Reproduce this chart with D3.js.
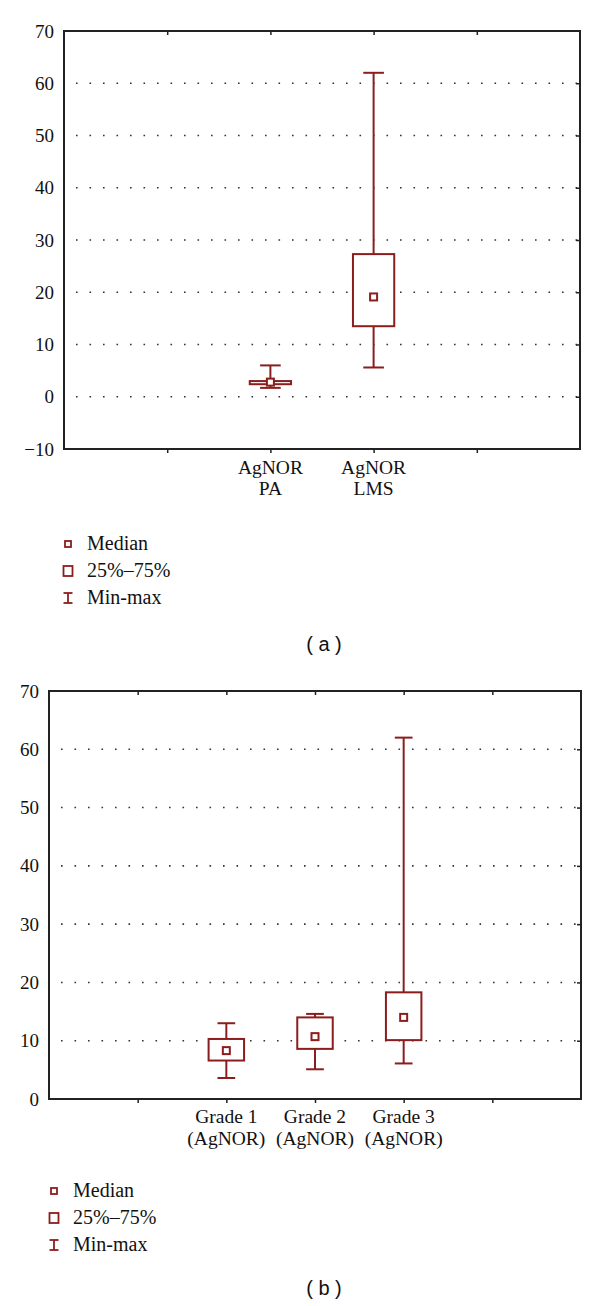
<!DOCTYPE html>
<html>
<head>
<meta charset="utf-8">
<script src="https://cdn.jsdelivr.net/npm/d3@7"></script>
<style>
  body { margin: 0; background: #fff; }
  svg { display: block; }
</style>
</head>
<body>
<script>
// panel (a)
var catsA = [["AgNOR", "PA"], ["AgNOR", "LMS"]]
var minA = [1.7, 5.6]
var q1A = [2.4, 13.5]
var medA = [2.8, 19.1]
var q3A = [3.0, 27.3]
var maxA = [6.0, 62.0]
var ticksA = [-10, 0, 10, 20, 30, 40, 50, 60, 70]

// panel (b)
var catsB = [["Grade 1", "(AgNOR)"], ["Grade 2", "(AgNOR)"], ["Grade 3", "(AgNOR)"]]
var minB = [3.6, 5.1, 6.1]
var q1B = [6.6, 8.6, 10.1]
var medB = [8.3, 10.7, 14.0]
var q3B = [10.3, 14.0, 18.3]
var maxB = [13.0, 14.6, 62.0]
var ticksB = [0, 10, 20, 30, 40, 50, 60, 70]

var legendItems = ["Median", "25%\u201375%", "Min-max"]

var RED = "#8c1d1d"
var AXIS = "#222"
var SERIF = "Liberation Serif, Times New Roman, serif"

var svg = d3.select("body").append("svg")
  .attr("width", 600)
  .attr("height", 1306)

function boxPanel(opt) {
  var g = svg.append("g")
  var n = opt.cats.length
  // two empty slots on each side of the categories
  var x = d3.scaleLinear().domain([0, n + 3]).range([opt.left, opt.right])
  var y = d3.scaleLinear().domain(d3.extent(opt.ticks)).range([opt.bottom, opt.top])
  var step = x(1) - x(0)
  var inner = d3.range(1, n + 3)

  // dotted grid
  var grid = opt.ticks.slice(1, -1)
  g.append("g").selectAll("line").data(grid).enter().append("line")
    .attr("x1", opt.left + 12).attr("x2", opt.right)
    .attr("y1", function(d) { return y(d) }).attr("y2", function(d) { return y(d) })
    .attr("stroke", "#333").attr("stroke-width", 1.6)
    .attr("stroke-dasharray", "1.6,11.9")

  // y labels
  var ay = g.append("g").attr("transform", "translate(" + opt.left + ",0)")
    .call(d3.axisLeft(y).tickValues(opt.ticks).tickSize(0).tickPadding(10))
  ay.select(".domain").remove()
  ay.selectAll("text")
    .attr("font-family", SERIF).attr("font-size", 19).attr("fill", "#111")

  // inward ticks on the right
  var ar = g.append("g").attr("transform", "translate(" + opt.right + ",0)")
    .call(d3.axisLeft(y).tickValues(grid).tickSize(4).tickFormat(""))
  ar.select(".domain").remove()
  ar.selectAll("line").attr("stroke", AXIS).attr("stroke-width", 1.5)

  // x ticks top (inward) and bottom (outward)
  var at = g.append("g").attr("transform", "translate(0," + opt.top + ")")
    .call(d3.axisBottom(x).tickValues(inner).tickSize(4).tickFormat(""))
  at.select(".domain").remove()
  at.selectAll("line").attr("stroke", AXIS).attr("stroke-width", 1.5)
  var ab = g.append("g").attr("transform", "translate(0," + opt.bottom + ")")
    .call(d3.axisBottom(x).tickValues(inner).tickSize(4).tickFormat(""))
  ab.select(".domain").remove()
  ab.selectAll("line").attr("stroke", AXIS).attr("stroke-width", 1.5)

  // frame
  g.append("rect")
    .attr("x", opt.left).attr("y", opt.top)
    .attr("width", opt.right - opt.left).attr("height", opt.bottom - opt.top)
    .attr("fill", "none").attr("stroke", AXIS).attr("stroke-width", 2)

  var data = opt.cats.map(function(c, i) {
    return {cat: c, pos: i + 2, min: opt.min[i], q1: opt.q1[i], med: opt.med[i], q3: opt.q3[i], max: opt.max[i]}
  })
  var boxW = step * 0.4
  var capW = step * 0.2

  var b = g.append("g").selectAll("g").data(data).enter().append("g")
    .attr("fill", "none").attr("stroke", RED).attr("stroke-width", 2)
  b.append("line")
    .attr("x1", function(d) { return x(d.pos) }).attr("x2", function(d) { return x(d.pos) })
    .attr("y1", function(d) { return y(d.max) }).attr("y2", function(d) { return y(d.q3) })
  b.append("line")
    .attr("x1", function(d) { return x(d.pos) }).attr("x2", function(d) { return x(d.pos) })
    .attr("y1", function(d) { return y(d.q1) }).attr("y2", function(d) { return y(d.min) })
  b.append("line")
    .attr("x1", function(d) { return x(d.pos) - capW / 2 }).attr("x2", function(d) { return x(d.pos) + capW / 2 })
    .attr("y1", function(d) { return y(d.max) }).attr("y2", function(d) { return y(d.max) })
  b.append("line")
    .attr("x1", function(d) { return x(d.pos) - capW / 2 }).attr("x2", function(d) { return x(d.pos) + capW / 2 })
    .attr("y1", function(d) { return y(d.min) }).attr("y2", function(d) { return y(d.min) })
  b.append("rect")
    .attr("x", function(d) { return x(d.pos) - boxW / 2 }).attr("width", boxW)
    .attr("y", function(d) { return y(d.q3) })
    .attr("height", function(d) { return y(d.q1) - y(d.q3) })
    .attr("fill", "#fff")
  b.append("rect")
    .attr("x", function(d) { return x(d.pos) - 3.5 }).attr("width", 7)
    .attr("y", function(d) { return y(d.med) - 3.5 }).attr("height", 7)
    .attr("fill", "#fff")

  // category labels
  var lab = g.append("g").selectAll("text").data(data).enter().append("text")
    .attr("text-anchor", "middle")
    .attr("font-family", SERIF).attr("font-size", 19.5)
    .attr("fill", "#111")
  lab.each(function(d) {
    var t = d3.select(this)
    d.cat.forEach(function(s, k) {
      t.append("tspan").attr("x", x(d.pos)).attr("y", opt.labY + k * opt.labGap).text(s)
    })
  })

  // legend
  var lg = g.append("g")
  legendItems.forEach(function(s, k) {
    var ly = opt.legY + k * 27
    var cx = opt.legX
    var mk = lg.append("g").attr("fill", "none").attr("stroke", RED).attr("stroke-width", 1.8)
    if (k === 0) {
      mk.append("rect").attr("x", cx - 3).attr("y", ly - 9).attr("width", 6).attr("height", 6)
    } else if (k === 1) {
      mk.append("rect").attr("x", cx - 4.5).attr("y", ly - 11).attr("width", 9).attr("height", 10)
    } else {
      mk.append("line").attr("x1", cx).attr("x2", cx).attr("y1", ly - 11).attr("y2", ly - 1)
      mk.append("line").attr("x1", cx - 4.5).attr("x2", cx + 4.5).attr("y1", ly - 11).attr("y2", ly - 11)
      mk.append("line").attr("x1", cx - 4.5).attr("x2", cx + 4.5).attr("y1", ly - 1).attr("y2", ly - 1)
    }
    lg.append("text").attr("x", cx + 19).attr("y", ly)
      .attr("font-family", SERIF).attr("font-size", 20)
      .attr("fill", "#111").text(s)
  })

  g.append("text").attr("x", 324).attr("y", opt.capY)
    .attr("text-anchor", "middle")
    .attr("font-family", "Liberation Sans, sans-serif").attr("font-size", 20)
    .attr("fill", "#111").attr("xml:space", "preserve").text(opt.caption)
}

boxPanel({
  cats: catsA, min: minA, q1: q1A, med: medA, q3: q3A, max: maxA, ticks: ticksA,
  left: 64, right: 580, top: 31, bottom: 449,
  labY: 474, labGap: 21, legX: 68, legY: 550, capY: 651, caption: "( a )"
})

boxPanel({
  cats: catsB, min: minB, q1: q1B, med: medB, q3: q3B, max: maxB, ticks: ticksB,
  left: 49, right: 581, top: 691, bottom: 1099,
  labY: 1123, labGap: 22, legX: 54, legY: 1197, capY: 1295, caption: "( b )"
})
</script>
</body>
</html>
